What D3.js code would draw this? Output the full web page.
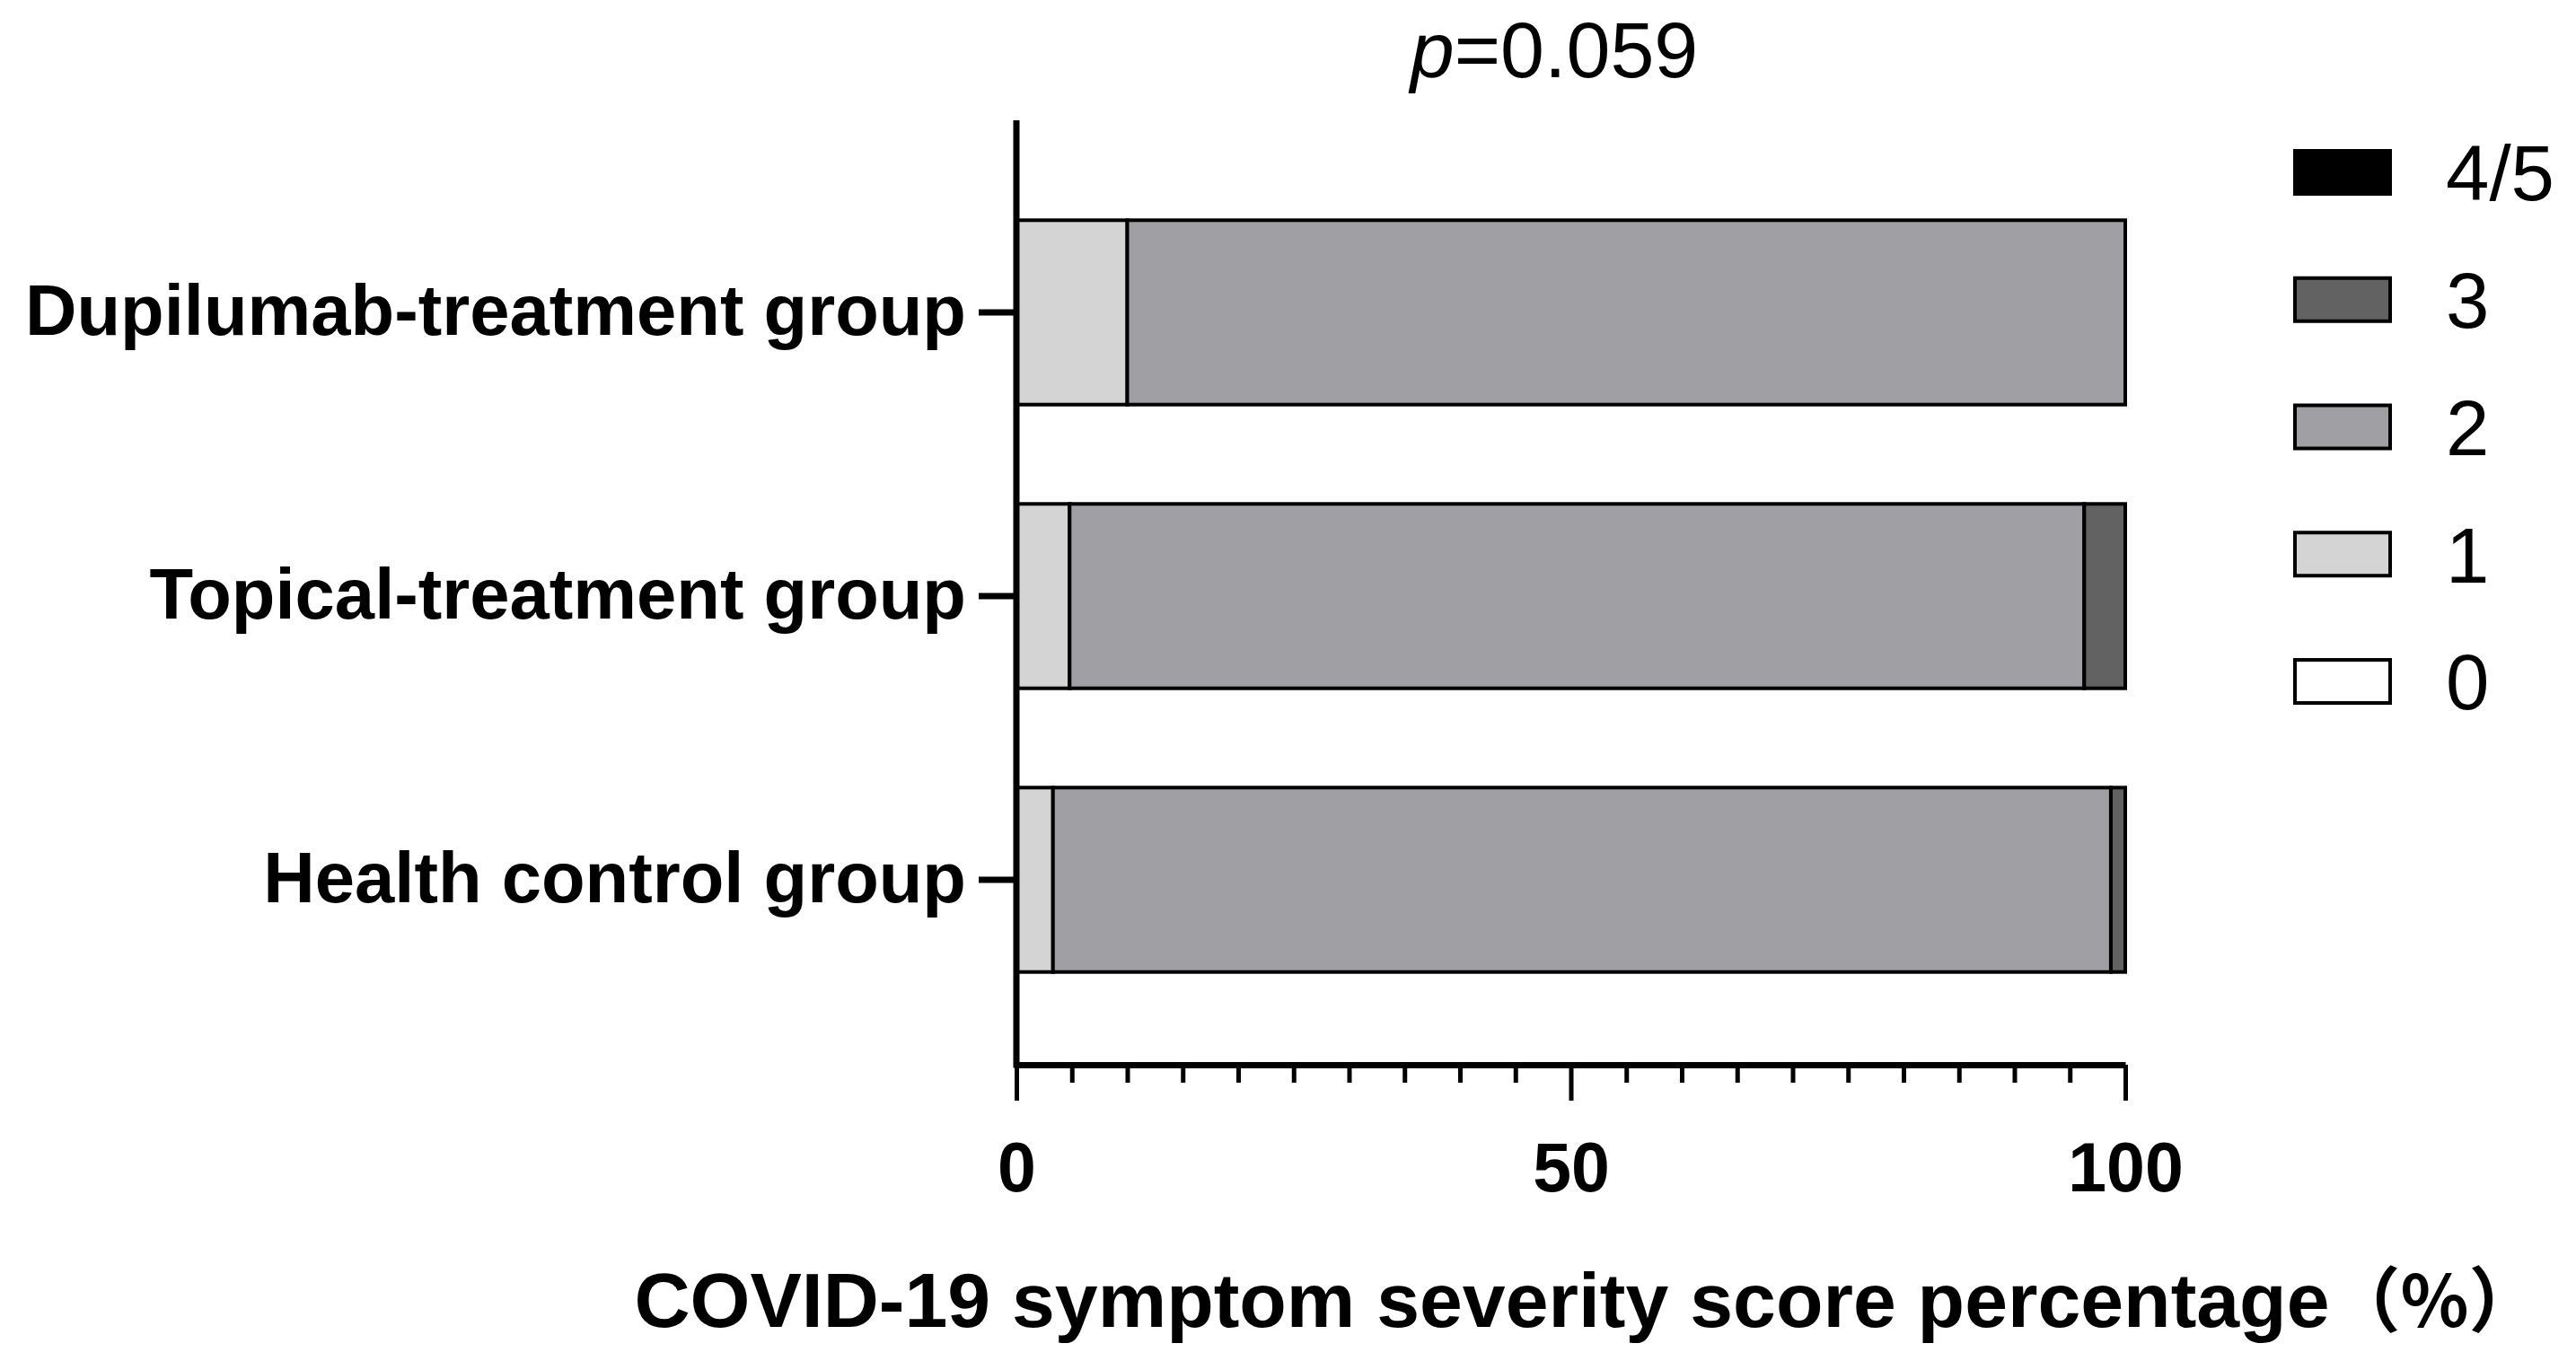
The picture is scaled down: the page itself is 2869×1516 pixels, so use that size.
<!DOCTYPE html>
<html><head><meta charset="utf-8">
<script src="https://cdn.jsdelivr.net/npm/d3@7"></script>
<style>body{margin:0;background:#fff} svg{display:block}</style>
</head><body><svg id="c" width="2869" height="1516"></svg>
<script>
const groups = ["Dupilumab-treatment group","Topical-treatment group","Health control group"];
const scoreKeys = ["0","1","2","3","4/5"];
const score0  = [0, 0, 0];
const score1  = [10, 4.8, 3.3];
const score2  = [90, 91.5, 95.4];
const score3  = [0, 3.7, 1.3];
const score45 = [0, 0, 0];
const scoreColors = ["#ffffff","#d4d4d4","#a09fa4","#626262","#000000"];
const xMajorTicks = [0, 50, 100];
const xMinorTicks = [5,10,15,20,25,30,35,40,45,55,60,65,70,75,80,85,90,95];
const legendOrder = ["4/5","3","2","1","0"];
const titleP = "p";
const titleRest = "=0.059";
const xTitleMain = "COVID-19 symptom severity score percentage";
const xTitleUnit = "（%）";

const rows = groups.map((g,i)=>({group:g,"0":score0[i],"1":score1[i],"2":score2[i],"3":score3[i],"4/5":score45[i]}));
const stacked = d3.stack().keys(scoreKeys)(rows);
const color = d3.scaleOrdinal().domain(scoreKeys).range(scoreColors);

const svg = d3.select("#c");
const L = 1132, R = 2367, T = 134, B = 1186;
const x = d3.scaleLinear().domain([0,100]).range([L,R]);
const y = d3.scaleBand().domain(groups).range([190,1138]).paddingInner(0.35).paddingOuter(0.175);

// bars
svg.append("g").selectAll("g").data(stacked).join("g")
  .attr("fill", d=>color(d.key))
  .selectAll("rect").data(d=>d.filter(s=>s[1]-s[0]>0)).join("rect")
  .attr("x", d=>x(d[0])).attr("width", d=>x(d[1])-x(d[0]))
  .attr("y", d=>y(d.data.group)).attr("height", y.bandwidth())
  .attr("stroke","#000").attr("stroke-width",4);

// y axis
const ya = svg.append("g").attr("transform",`translate(${L},0)`)
  .call(d3.axisLeft(y).tickSize(42).tickSizeOuter(0).tickPadding(14));
ya.select(".domain").remove();
ya.selectAll(".tick line").attr("stroke","#000").attr("stroke-width",7);
ya.selectAll(".tick text").attr("font-family","'Liberation Sans', Arial, sans-serif")
  .attr("font-weight","bold").attr("font-size",79.6).attr("fill","#000");
svg.append("line").attr("x1",L).attr("x2",L).attr("y1",T).attr("y2",B+3.5)
  .attr("stroke","#000").attr("stroke-width",7);

// x axis
const xa = svg.append("g").attr("transform",`translate(0,${B})`)
  .call(d3.axisBottom(x).tickValues(xMajorTicks).tickSize(40).tickSizeOuter(0).tickPadding(46).tickFormat(d3.format("d")));
xa.select(".domain").attr("stroke","#000").attr("stroke-width",7);
xa.selectAll(".tick line").attr("stroke","#000").attr("stroke-width",5);
xa.selectAll(".tick text").attr("font-family","'Liberation Sans', Arial, sans-serif")
  .attr("font-weight","bold").attr("font-size",77).attr("fill","#000");
const xm = svg.append("g").attr("transform",`translate(0,${B})`)
  .call(d3.axisBottom(x).tickValues(xMinorTicks).tickSize(20).tickSizeOuter(0).tickFormat(""));
xm.select(".domain").remove();
xm.selectAll(".tick line").attr("stroke","#000").attr("stroke-width",5);

// x title
const xt = svg.append("text").attr("x",(L+R)/2 + 18).attr("y",1478).attr("text-anchor","middle")
  .attr("font-family","'Liberation Sans', Arial, 'Noto Sans CJK SC', sans-serif")
  .attr("font-weight","bold").attr("font-size",86);
xt.append("tspan").text(xTitleMain);
xt.append("tspan").attr("font-size",79).attr("font-family","'Noto Sans CJK SC', 'Liberation Sans', sans-serif").text(xTitleUnit);

// title
const t = svg.append("text").attr("x",1731).attr("y",86).attr("text-anchor","middle")
  .attr("font-family","'Liberation Sans', Arial, sans-serif").attr("font-size",88);
t.append("tspan").attr("font-style","italic").text(titleP);
t.append("tspan").text(titleRest);

// legend
const ly = d3.scalePoint().domain(legendOrder).range([192,759]);
const lg = svg.append("g").selectAll("g").data(legendOrder).join("g")
  .attr("transform",d=>`translate(0,${ly(d)})`);
lg.append("rect").attr("x",2556).attr("y",-24).attr("width",106).attr("height",48)
  .attr("fill",d=>color(d)).attr("stroke","#000").attr("stroke-width",4);
lg.append("text").attr("x",2724).attr("dy","0.36em")
  .attr("font-family","'Liberation Sans', Arial, sans-serif").attr("font-size",87)
  .text(d=>d);
</script></body></html>
